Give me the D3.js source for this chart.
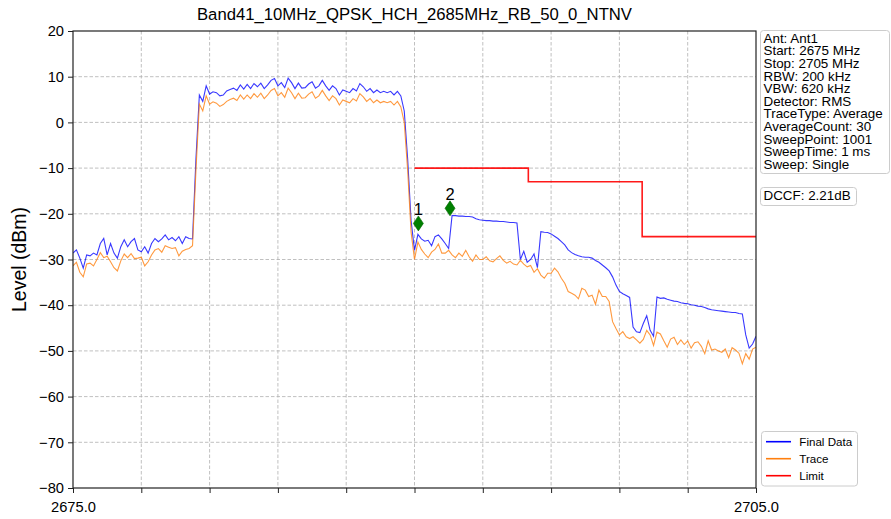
<!DOCTYPE html>
<html><head><meta charset="utf-8">
<script src="https://cdn.jsdelivr.net/npm/d3@7"></script>
<style>
body{margin:0;background:#fff}
text{font-family:"Liberation Sans",Arial,Helvetica,sans-serif;fill:#000}
</style>
</head><body><svg id="chart" width="891" height="519"></svg>
<script>
const titleText = "Band41_10MHz_QPSK_HCH_2685MHz_RB_50_0_NTNV";
const yAxisLabel = "Level (dBm)";
const freqStart = 2675, freqStep = 0.15;
const finalLevels = [
-28.6,-27.9,-29.7,-31.9,-29.0,-29.2,-28.6,-29.0,-26.5,-25.4,
-29.0,-26.5,-28.6,-29.7,-27.2,-25.7,-27.2,-26.1,-25.4,-27.9,
-28.3,-27.2,-28.6,-26.5,-25.4,-26.1,-25.5,-24.6,-25.7,-25.2,
-25.9,-25.0,-26.5,-25.0,-25.4,-25.5,-8.0,6.0,4.6,8.0,
6.2,6.7,6.5,5.8,6.0,6.9,7.2,7.5,7.0,8.2,
7.3,8.3,7.4,8.5,7.8,8.6,7.4,8.2,9.2,9.6,
8.0,8.7,7.6,9.7,8.7,7.4,8.6,7.5,7.6,8.4,
8.9,7.5,8.0,9.2,8.0,7.0,8.0,7.4,6.0,7.1,
6.8,6.5,7.4,6.9,8.5,7.8,6.8,7.4,6.5,7.1,
6.5,6.8,6.5,6.8,6.0,6.8,5.8,2.5,-8.0,-21.5,
-28.0,-24.5,-25.5,-26.0,-25.8,-27.0,-25.0,-24.6,-25.5,-26.5,
-27.6,-20.4,-20.4,-20.5,-20.5,-20.6,-20.6,-20.7,-21.1,-21.3,
-21.4,-21.5,-21.5,-21.6,-21.6,-21.7,-21.7,-21.8,-21.9,-21.9,
-22.0,-30.0,-28.2,-30.6,-30.0,-28.8,-31.8,-23.9,-24.05,-24.1,
-24.4,-24.9,-25.4,-26.1,-26.8,-27.9,-28.5,-28.9,-29.2,-29.4,
-29.5,-29.5,-29.7,-30.2,-30.6,-31.2,-31.8,-32.5,-33.8,-35.6,
-37.0,-37.5,-37.9,-38.3,-44.8,-45.8,-46.0,-44.0,-42.3,-45.5,
-46.8,-38.2,-38.5,-38.4,-38.7,-38.9,-39.1,-39.2,-39.45,-39.6,
-39.7,-39.9,-40.0,-40.2,-40.3,-40.5,-40.8,-41.0,-41.1,-41.2,
-41.3,-41.4,-41.5,-41.6,-41.6,-41.8,-41.9,-46.5,-49.4,-48.5,
-46.8];
const traceLevels = [
-31.4,-30.6,-32.8,-33.8,-31.0,-30.8,-31.4,-30.0,-28.5,-29.6,
-29.3,-30.5,-31.8,-32.5,-30.3,-28.8,-29.6,-28.7,-29.8,-29.7,
-29.5,-31.4,-30.5,-29.0,-27.9,-27.6,-28.4,-27.0,-27.3,-27.6,
-27.4,-29.2,-28.2,-27.8,-27.6,-27.0,-10.5,4.0,2.5,5.8,
4.0,4.5,4.2,3.5,3.9,4.6,5.0,5.3,4.8,6.0,
5.1,6.0,5.2,6.3,5.5,6.4,5.2,6.0,7.0,7.4,
5.8,6.5,5.5,7.5,6.5,5.2,6.4,5.3,5.4,6.2,
6.7,5.3,5.8,7.0,5.8,4.8,5.8,5.2,3.8,4.9,
4.6,4.3,5.2,4.7,6.3,5.6,4.6,5.2,4.3,4.9,
4.3,4.6,4.3,4.6,3.8,4.6,3.4,0.0,-10.5,-24.0,
-30.0,-26.2,-27.8,-28.8,-29.6,-28.4,-27.8,-26.6,-28.6,-28.6,
-28.0,-29.0,-29.6,-28.6,-29.3,-28.0,-29.4,-30.4,-29.0,-30.0,
-30.0,-29.4,-30.3,-30.5,-29.8,-29.2,-30.2,-30.8,-30.4,-31.0,
-31.2,-30.2,-31.0,-31.6,-31.3,-32.8,-32.0,-33.4,-34.1,-33.0,
-33.0,-31.9,-32.7,-34.1,-35.2,-37.0,-37.4,-37.8,-38.6,-36.3,
-36.7,-38.1,-37.8,-39.8,-36.7,-38.1,-38.1,-39.2,-43.6,-45.1,
-46.5,-45.8,-46.9,-47.3,-46.9,-47.6,-48.3,-47.5,-45.5,-46.5,
-48.8,-45.9,-46.3,-47.8,-49.2,-47.4,-47.0,-48.6,-47.6,-48.6,
-47.8,-49.4,-48.2,-48.0,-49.0,-50.6,-47.8,-49.8,-49.6,-50.0,
-50.3,-49.6,-51.5,-49.3,-49.8,-50.5,-52.8,-50.6,-51.8,-49.6,
-49.2];
const limitFreqs = [2690, 2695, 2695, 2700, 2700, 2705];
const limitLevels = [-10, -10, -13, -13, -25, -25];
const markerFreqs = [2690.17, 2691.56];
const markerLevels = [-22.1, -18.8];
const markerLabels = ["1", "2"];
const yTicks = [20, 10, 0, -10, -20, -30, -40, -50, -60, -70, -80];
const xTicks = [2675, 2678, 2681, 2684, 2687, 2690, 2693, 2696, 2699, 2702, 2705];
const xTickLabels = ["2675.0", "", "", "", "", "", "", "", "", "", "2705.0"];
const infoLines = ["Ant: Ant1", "Start: 2675 MHz", "Stop: 2705 MHz", "RBW: 200 kHz", "VBW: 620 kHz",
  "Detector: RMS", "TraceType: Average", "AverageCount: 30", "SweepPoint: 1001", "SweepTime: 1 ms", "Sweep: Single"];
const dccfText = "DCCF: 2.21dB";
const legendNames = ["Final Data", "Trace", "Limit"];
const legendColors = ["#0000ff", "#ff7f0e", "#ff0000"];

const svg = d3.select("#chart");
svg.append("rect").attr("width", 891).attr("height", 519).attr("fill", "#fff");
const L = 73, R = 756, T = 31, B = 488;
const x = d3.scaleLinear().domain([2675, 2705]).range([L, R]);
const y = d3.scaleLinear().domain([-80, 20]).range([B, T]);
const freqs = finalLevels.map((_, i) => freqStart + i * freqStep);

// grid
const grid = svg.append("g").attr("stroke", "#b0b0b0").attr("stroke-width", 0.8).attr("stroke-dasharray", "3.5,2");
xTicks.slice(1, -1).forEach(t => grid.append("line").attr("x1", x(t)).attr("x2", x(t)).attr("y1", T).attr("y2", B));
yTicks.slice(1, -1).forEach(t => grid.append("line").attr("x1", L).attr("x2", R).attr("y1", y(t)).attr("y2", y(t)));

svg.append("defs").append("clipPath").attr("id", "clip").append("rect")
  .attr("x", L).attr("y", T).attr("width", R - L).attr("height", B - T);
const plot = svg.append("g").attr("clip-path", "url(#clip)");
const line = d3.line().x(d => x(d[0])).y(d => y(d[1]));
plot.append("path").datum(freqs.map((f, i) => [f, finalLevels[i]])).attr("d", line)
  .attr("fill", "none").attr("stroke", "#0000ff").attr("stroke-opacity", 0.78).attr("stroke-width", 1.1);
plot.append("path").datum(freqs.map((f, i) => [f, traceLevels[i]])).attr("d", line)
  .attr("fill", "none").attr("stroke", "#ff7f0e").attr("stroke-opacity", 0.8).attr("stroke-width", 1.1);
plot.append("path").datum(limitFreqs.map((f, i) => [f, limitLevels[i]])).attr("d", line)
  .attr("fill", "none").attr("stroke", "#ff0000").attr("stroke-opacity", 0.9).attr("stroke-width", 1.6);

// markers
markerFreqs.forEach((f, i) => {
  const cx = x(f), cy = y(markerLevels[i]);
  svg.append("path").attr("d", `M${cx},${cy - 7.5}L${cx + 5},${cy}L${cx},${cy + 7.5}L${cx - 5},${cy}Z`)
    .attr("fill", "#008000").attr("stroke", "#006400").attr("stroke-width", 0.6);
  svg.append("text").attr("x", cx).attr("y", cy - 8.5).attr("text-anchor", "middle")
    .attr("font-size", "16.5px").text(markerLabels[i]);
});

// axes
const xAxis = d3.axisBottom(x).tickValues(xTicks).tickSize(5).tickPadding(6)
  .tickFormat((d, i) => xTickLabels[i]);
const gx = svg.append("g").attr("transform", `translate(0,${B})`).call(xAxis);
const yAxis = d3.axisLeft(y).tickValues(yTicks).tickSize(5).tickPadding(4).tickFormat(d3.format("d"));
const gy = svg.append("g").attr("transform", `translate(${L},0)`).call(yAxis);
[gx, gy].forEach(g => {
  g.select(".domain").remove();
  g.selectAll(".tick line").attr("stroke", "#222").attr("stroke-width", 1);
  g.selectAll(".tick text").attr("font-size", "14.7px").attr("fill", "#000")
    .attr("font-family", '"Liberation Sans",Arial,sans-serif');
});
gx.selectAll(".tick text").attr("dy", "0.9em");
svg.append("rect").attr("x", L).attr("y", T).attr("width", R - L).attr("height", B - T)
  .attr("fill", "none").attr("stroke", "#222").attr("stroke-width", 1.2);

// title and labels
svg.append("text").attr("x", (L + R) / 2).attr("y", 20).attr("text-anchor", "middle")
  .attr("font-size", "16.7px").text(titleText);
svg.append("text").attr("transform", `translate(25.5,${(T + B) / 2}) rotate(-90)`).attr("text-anchor", "middle")
  .attr("font-size", "19.5px").text(yAxisLabel);

// info box
svg.append("rect").attr("x", 760.5).attr("y", 30.5).attr("width", 129).attr("height", 143).attr("rx", 3)
  .attr("fill", "#fff").attr("stroke", "#cccccc").attr("stroke-width", 1);
infoLines.forEach((s, i) => svg.append("text").attr("x", 763.5).attr("y", 42.7 + i * 12.6)
  .attr("font-size", "13.4px").text(s));
svg.append("rect").attr("x", 760.5).attr("y", 187.5).attr("width", 96).attr("height", 18).attr("rx", 3)
  .attr("fill", "#fff").attr("stroke", "#cccccc").attr("stroke-width", 1);
svg.append("text").attr("x", 763.5).attr("y", 200.3).attr("font-size", "13.4px").text(dccfText);

// legend
svg.append("rect").attr("x", 761.5).attr("y", 431.5).attr("width", 96).attr("height", 54.5).attr("rx", 3)
  .attr("fill", "#fff").attr("stroke", "#cccccc").attr("stroke-width", 1);
legendNames.forEach((n, i) => {
  const ly = 441.7 + i * 17;
  svg.append("line").attr("x1", 766).attr("x2", 791).attr("y1", ly).attr("y2", ly)
    .attr("stroke", legendColors[i]).attr("stroke-width", 1.6);
  svg.append("text").attr("x", 799.3).attr("y", ly + 4.1).attr("font-size", "11.6px").text(n);
});
</script></body></html>
